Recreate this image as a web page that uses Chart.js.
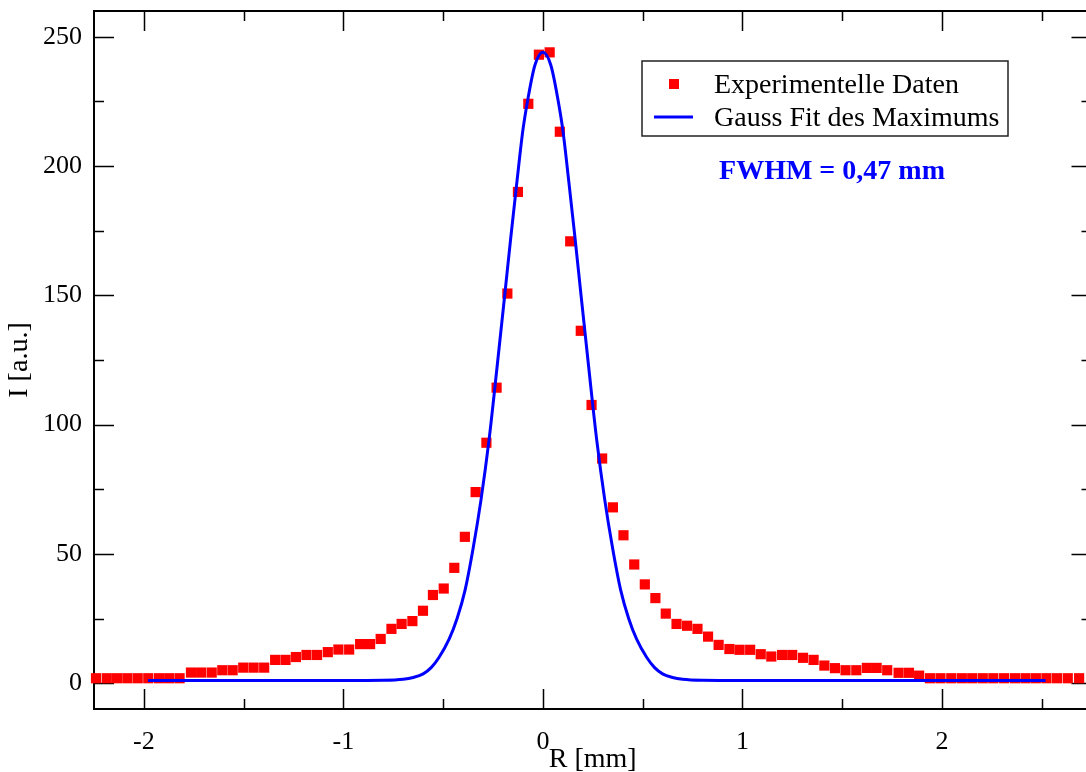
<!DOCTYPE html>
<html>
<head>
<meta charset="utf-8">
<title>Intensitätsprofil</title>
<script src="https://cdn.jsdelivr.net/npm/chart.js@4.4.1/dist/chart.umd.min.js"></script>
<style>
  html, body { margin: 0; padding: 0; background: #fff; overflow: hidden; }
  #wrap { width: 1100px; height: 772px; }
</style>
</head>
<body>
<div id="wrap"><canvas id="profileChart" width="1100" height="772"></canvas></div>
<script>
// measured points: R [mm] and intensity [a.u.]
const rData = [
  -2.240, -2.186, -2.135, -2.083, -2.031, -1.978, -1.924, -1.873, -1.821, -1.764,
  -1.713, -1.660, -1.607, -1.555, -1.502, -1.450, -1.397, -1.342, -1.290, -1.238,
  -1.185, -1.132, -1.078, -1.025, -0.971, -0.916, -0.866, -0.813, -0.759, -0.708,
  -0.654, -0.601, -0.551, -0.497, -0.444, -0.391, -0.337, -0.283, -0.232, -0.178,
  -0.125, -0.073, -0.020,
  0.034, 0.085, 0.137, 0.190, 0.244, 0.297, 0.351, 0.404, 0.458, 0.511,
  0.564, 0.616, 0.670, 0.723, 0.775, 0.828, 0.881, 0.935, 0.986, 1.039,
  1.092, 1.145, 1.199, 1.250, 1.304, 1.357, 1.411, 1.464, 1.517, 1.571,
  1.624, 1.673, 1.726, 1.783, 1.835, 1.886, 1.940, 1.993, 2.047, 2.100,
  2.152, 2.205, 2.258, 2.312, 2.366, 2.419, 2.471, 2.524, 2.577, 2.631, 2.688
];
const iData = [
  1.9, 1.9, 1.9, 1.9, 1.9, 1.9, 1.9, 1.9, 1.9, 4.1,
  4.1, 4.1, 5.0, 5.0, 6.0, 6.0, 6.0, 9.0, 9.0, 10.1,
  10.9, 10.9, 12.0, 13.0, 13.0, 15.1, 15.1, 17.1, 21.0, 22.9,
  24.0, 28.0, 34.1, 36.6, 44.6, 56.6, 73.9, 93.0, 114.3, 150.7,
  190.0, 224.1, 243.1,
  244.0, 213.3, 170.9, 136.3, 107.6, 86.9, 68.0, 57.2, 45.9, 38.2,
  32.9, 26.9, 22.9, 22.2, 21.0, 18.0, 14.8, 13.2, 12.9, 12.9,
  11.2, 10.3, 10.9, 10.9, 9.8, 9.0, 6.8, 5.8, 5.0, 5.0,
  5.9, 5.9, 5.0, 4.0, 4.0, 2.9, 1.9, 1.9, 1.9, 1.9,
  1.9, 1.9, 1.9, 1.9, 1.9, 1.9, 1.9, 1.9, 1.9, 1.9, 1.9
];

// Gauss fit curve
const fitR = [
  -1.98, -1.0, -0.8, -0.7, -0.65, -0.6, -0.56, -0.52, -0.47, -0.43, -0.39, -0.35,
  -0.31, -0.27, -0.23, -0.19, -0.16, -0.13, -0.1, -0.075, -0.04, 0,
  0.04, 0.075, 0.1, 0.13, 0.16, 0.19, 0.23, 0.27, 0.31, 0.35, 0.39, 0.43,
  0.47, 0.52, 0.56, 0.6, 0.65, 0.7, 0.8, 1.0, 2.52
];
const fitI = [
  1.0, 1.0, 1.1, 1.5, 2.2, 3.6, 6, 10, 17, 25, 36, 52,
  71, 94, 122, 151, 173, 194, 214, 226, 239, 244,
  239, 226, 214, 194, 173, 151, 122, 94, 71, 52, 36, 25,
  17, 10, 6, 3.6, 2.2, 1.5, 1.1, 1.0, 1.0
];

const xTicks = [-2, -1, 0, 1, 2];
const xMinor = [-1.5, -0.5, 0.5, 1.5, 2.5];
const yTicks = [0, 50, 100, 150, 200, 250];
const yMinor = [25, 75, 125, 175, 225];

const serif = "'Liberation Serif', 'Times New Roman', serif";

const frameTicks = {
  id: 'frameTicks',
  beforeDatasetsDraw(chart) {
    const { ctx, chartArea: a, scales: { x, y } } = chart;
    ctx.save();
    ctx.strokeStyle = '#000';
    ctx.lineWidth = 1.5;
    ctx.beginPath();
    const vTicks = (vals, len) => vals.forEach(v => {
      const px = Math.round(x.getPixelForValue(v)) + 0.5;
      ctx.moveTo(px, a.bottom); ctx.lineTo(px, a.bottom - len);
      ctx.moveTo(px, a.top); ctx.lineTo(px, a.top + len);
    });
    const hTicks = (vals, len) => vals.forEach(v => {
      const py = Math.round(y.getPixelForValue(v)) + 0.5;
      ctx.moveTo(a.left, py); ctx.lineTo(a.left + len, py);
      ctx.moveTo(a.right, py); ctx.lineTo(a.right - len, py);
    });
    vTicks(xTicks, 20);
    vTicks(xMinor, 10);
    hTicks(yTicks, 20);
    hTicks(yMinor, 10);
    ctx.stroke();
    ctx.lineWidth = 2;
    ctx.strokeRect(a.left, a.top, a.right - a.left, a.bottom - a.top);
    ctx.restore();
  }
};

const legendBox = {
  id: 'legendBox',
  afterDatasetsDraw(chart) {
    const { ctx } = chart;
    const fit = chart.data.datasets[0];
    const pts = chart.data.datasets[1];
    ctx.save();
    ctx.fillStyle = '#fff';
    ctx.fillRect(642, 61, 366, 75);
    ctx.strokeStyle = '#222';
    ctx.lineWidth = 1.5;
    ctx.strokeRect(642, 61, 366, 75);

    ctx.fillStyle = pts.backgroundColor;
    ctx.fillRect(669, 79, 10, 10);
    ctx.strokeStyle = fit.borderColor;
    ctx.lineWidth = fit.borderWidth;
    ctx.beginPath();
    ctx.moveTo(654, 117);
    ctx.lineTo(693, 117);
    ctx.stroke();

    ctx.fillStyle = '#000';
    ctx.font = '28px ' + serif;
    ctx.textAlign = 'left';
    ctx.textBaseline = 'alphabetic';
    ctx.fillText(pts.label, 714, 93);
    ctx.fillText(fit.label, 714, 126);

    ctx.fillStyle = '#0000ff';
    ctx.font = 'bold 28px ' + serif;
    ctx.textAlign = 'center';
    ctx.fillText('FWHM = 0,47 mm', 832, 179);
    ctx.restore();
  }
};

new Chart(document.getElementById('profileChart'), {
  type: 'scatter',
  data: {
    datasets: [{
      label: 'Gauss Fit des Maximums',
      data: fitR.map((r, k) => ({ x: r, y: fitI[k] })),
      showLine: true,
      borderColor: '#0000ff',
      borderWidth: 3,
      pointRadius: 0,
      cubicInterpolationMode: 'monotone',
      clip: false
    }, {
      label: 'Experimentelle Daten',
      data: rData.map((r, k) => ({ x: r, y: iData[k] })),
      pointStyle: 'rect',
      pointRadius: 7.2,
      backgroundColor: '#ff0000',
      borderWidth: 0,
      clip: false
    }]
  },
  options: {
    responsive: false,
    devicePixelRatio: 1,
    animation: false,
    layout: { padding: { top: 11, right: 8.5, left: 0, bottom: 0 } },
    plugins: { legend: { display: false }, tooltip: { enabled: false } },
    scales: {
      x: {
        type: 'linear',
        min: -2.25,
        max: 2.75,
        grid: { display: false, drawTicks: false },
        border: { display: false },
        afterBuildTicks: s => { s.ticks = xTicks.map(v => ({ value: v })); },
        afterFit: s => { s.height = 63; s.paddingLeft = 0; s.paddingRight = 0; },
        ticks: { color: '#000', padding: 18, autoSkip: false, maxRotation: 0, font: { family: serif, size: 26 } },
        title: { display: true, text: 'R [mm]', color: '#000', padding: { top: 0, bottom: -2 }, font: { family: serif, size: 28, lineHeight: 1 } }
      },
      y: {
        type: 'linear',
        min: -10,
        max: 260,
        grid: { display: false, drawTicks: false },
        border: { display: false },
        afterBuildTicks: s => { s.ticks = yTicks.map(v => ({ value: v })); },
        afterFit: s => { s.width = 94; s.paddingTop = 0; s.paddingBottom = 0; },
        ticks: { color: '#000', padding: 12, autoSkip: false, font: { family: serif, size: 26 } },
        title: { display: true, text: 'I [a.u.]', color: '#000', padding: { top: 6, bottom: 0 }, font: { family: serif, size: 28, lineHeight: 1 } }
      }
    }
  },
  plugins: [frameTicks, legendBox]
});
</script>
</body>
</html>
